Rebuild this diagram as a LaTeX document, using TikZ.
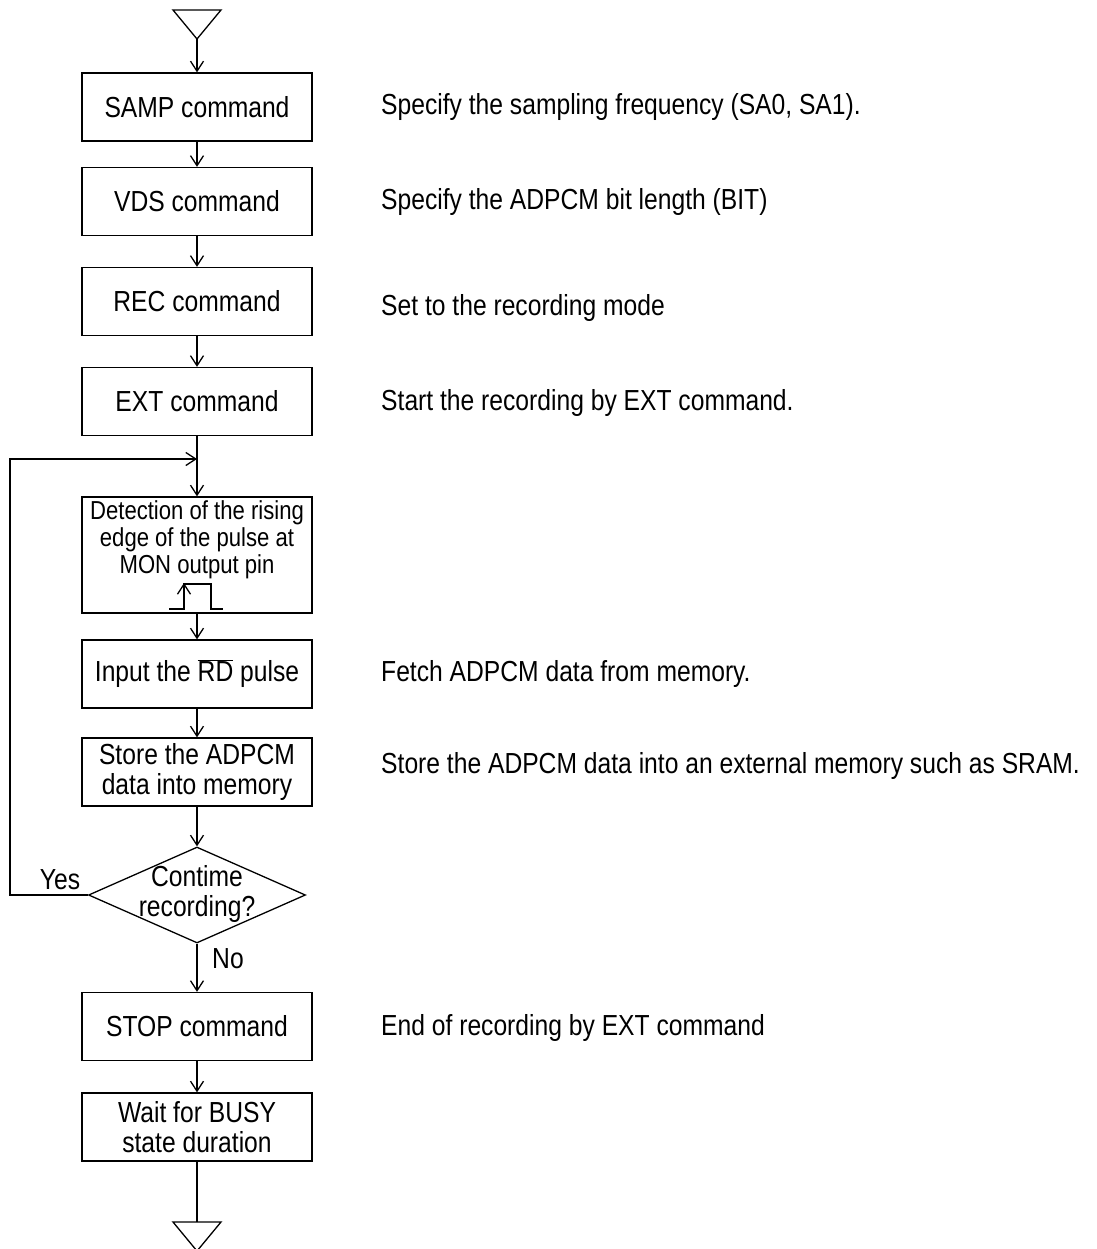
\documentclass[tikz,border=0pt]{standalone}
\usepackage{fontspec}
\setmainfont{Liberation Sans}[FakeStretch=0.85]
\usetikzlibrary{arrows.meta,shapes.geometric}
\begin{document}
\begin{tikzpicture}[x=1pt,y=-1pt,
  every node/.style={font=\fontsize{29}{30}\selectfont},
  box/.style={draw,line width=1.3pt,minimum width=230pt,minimum height=68pt,inner sep=0pt,align=center},
  side/.style={anchor=west,inner sep=0pt},
  lbl/.style={inner sep=0pt},
  arr/.style={line width=1.3pt,-{Straight Barb[length=10pt,width=13pt,line width=1.3pt]}},
  ln/.style={line width=1.3pt}]
\useasboundingbox (0,0) rectangle (1096,1249);
% top terminal
\coordinate (t1) at (173,10);
\coordinate (t2) at (221,10);
\coordinate (tA) at (197,39);
\draw[ln,line join=miter] (t1) -- (t2) -- (tA) -- cycle;
% boxes
\node[box] (samp) at (197,107) {SAMP command};
\node[box] (vds)  at (197,201.5) {VDS command};
\node[box] (rec)  at (197,301.5) {REC command};
\node[box] (ext)  at (197,401.5) {EXT command};
\node[box,minimum height=116pt] (det) at (197,555) {};
\node[lbl,align=center,font=\fontsize{26}{27}\selectfont] (dettxt) at (197,540) {Detection of the rising\\edge of the pulse at\\MON output pin};
\node[box] (rd)   at (197,674) {Input the $\overline{\hbox{RD}}$ pulse};
\node[box] (store) at (197,772) {Store the ADPCM\\data into memory};
\node[draw,diamond,line width=1.3pt,minimum width=217pt,minimum height=96pt,inner sep=0pt] (dec) at (197,895) {};
\node[lbl,align=center] (dectxt) at (197,894) {Contime\\recording?};
\node[box] (stop) at (197,1026.5) {STOP command};
\node[box] (wait) at (197,1127) {Wait for BUSY\\state duration};
% bottom terminal
\coordinate (b1) at (173,1222);
\coordinate (b2) at (221,1222);
\coordinate (bA) at (197,1251);
\draw[ln,line join=miter] (b1) -- (b2) -- (bA) -- cycle;
% pulse symbol
\coordinate (p0) at (169,609);
\coordinate (p1) at (184,609);
\coordinate (p2) at (184,584);
\coordinate (p3) at (211,584);
\coordinate (p4) at (211,609);
\coordinate (p5) at (223,609);
\draw[ln,line width=1.1pt] (p0) -- (p1) -- (p2) -- (p3) -- (p4) -- (p5);
\draw[arr,line width=1.1pt] (p1) -- ([yshift=1pt]p2);
% connectors
\draw[arr] (tA) -- (samp.north);
\draw[arr] (samp) -- (vds);
\draw[arr] (vds) -- (rec);
\draw[arr] (rec) -- (ext);
\draw[arr] (ext) -- (det);
\draw[arr] (det) -- (rd);
\draw[arr] (rd) -- (store);
\draw[arr] (store.south) -- (dec.north);
\draw[arr] (dec.south) -- (stop.north);
\draw[arr] (stop) -- (wait);
\draw[ln] (wait.south) -- (b2 -| wait.south);
\coordinate (jn) at (197,459);
\coordinate (lx) at (10,895);
\draw[arr] (dec.west) -- (lx) |- (jn);
% labels
\node[lbl] (yes) at (60,880) {Yes};
\node[lbl] (no) at (228,959) {No};
% side texts
\node[side] (s1) at (381,107) {Specify the sampling frequency (SA0, SA1).};
\node[side] (s2) at (381,202.5) {Specify the ADPCM bit length (BIT)};
\node[side] (s3) at (381,308) {Set to the recording mode};
\node[side] (s4) at (381,403) {Start the recording by EXT command.};
\node[side] (s5) at (381,674) {Fetch ADPCM data from memory.};
\node[side] (s6) at (381,766) {Store the ADPCM data into an external memory such as SRAM.};
\node[side] (s7) at (381,1027.5) {End of recording by EXT command};
\end{tikzpicture}
\end{document}
